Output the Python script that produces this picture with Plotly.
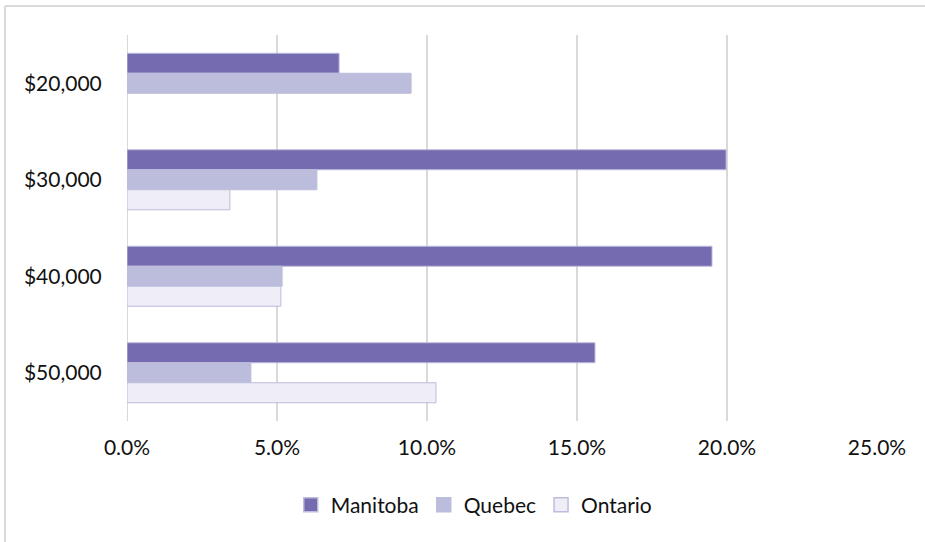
import plotly.graph_objects as go

categories = ["$20,000", "$30,000", "$40,000", "$50,000"]
manitoba = [7.07, 19.97, 19.5, 15.6]
quebec = [9.47, 6.33, 5.17, 4.13]
ontario = [None, 3.43, 5.13, 10.3]
x_ticks = [0, 5, 10, 15, 20, 25]

FONT = "Lato"
series = [("Manitoba", manitoba, "#756bb1"),
          ("Quebec", quebec, "#bcbddc"),
          ("Ontario", ontario, "#efedf5")]
fig = go.Figure()
for name, vals, col in series:
    fig.add_trace(go.Bar(y=categories, x=vals, name=name, orientation="h", showlegend=False,
                         marker=dict(color=col, line=dict(color="#bcbddc", width=1))))
for name, vals, col in series:
    fig.add_trace(go.Scatter(x=[None], y=[None], mode="markers", name=name,
                             marker=dict(symbol="square", size=14, color=col,
                                         line=dict(color="#bcbddc", width=1.5))))

fig.update_layout(
    width=925, height=542,
    margin=dict(l=127, r=48, t=35, b=121),
    barmode="group", bargap=0.378, bargroupgap=0,
    plot_bgcolor="white", paper_bgcolor="white",
    font=dict(family=FONT, size=21, color="#111111"),
    showlegend=True,
    legend=dict(orientation="h", x=0.463, xanchor="center", y=-0.2176, yanchor="middle",
                font=dict(size=21), itemwidth=30, traceorder="normal"),
    xaxis=dict(range=[0, 25], tickvals=x_ticks, ticktext=[f"{v:.1f}%" for v in x_ticks],
               showgrid=True, gridcolor="#d9d9d9", gridwidth=2, zeroline=False,
               ticks="outside", ticklen=8, tickcolor="rgba(0,0,0,0)", showline=False,
               automargin=False),
    yaxis=dict(autorange="reversed", showgrid=False, zeroline=False, showline=False,
               ticks="outside", ticklen=20, tickcolor="rgba(0,0,0,0)", automargin=False),
    shapes=[
        dict(type="line", xref="paper", yref="paper", x0=-0.1627, x1=1.2, y0=1.0751, y1=1.0751,
             line=dict(color="#d9d9d9", width=2)),
        dict(type="line", xref="paper", yref="paper", x0=-0.1627, x1=-0.1627, y0=1.0751, y1=-0.4,
             line=dict(color="#d9d9d9", width=2)),
    ],
)
fig.add_shape(type="line", xref="x", yref="paper", x0=0, x1=0, y0=0, y1=1,
              line=dict(color="#d9d9d9", width=2), layer="below")
fig.write_html("out.html", config={"displayModeBar": False},
               post_script="document.body.style.margin='0';")
